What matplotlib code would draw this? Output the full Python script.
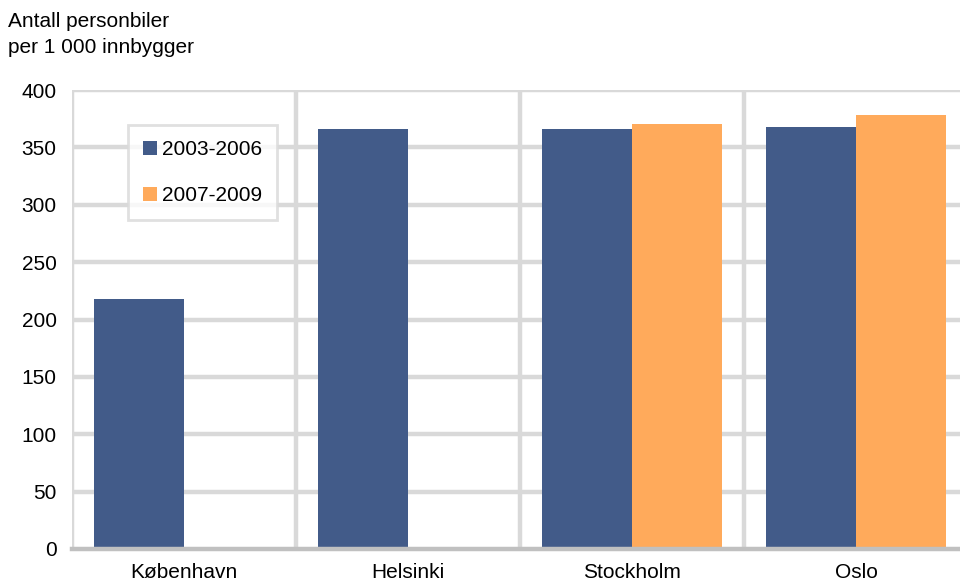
import numpy as np
import matplotlib.pyplot as plt

plt.rcParams['font.family'] = ['Liberation Sans', 'DejaVu Sans']

# Data
cities = ['København', 'Helsinki', 'Stockholm', 'Oslo']
cars_2003_2006 = [218, 366, 366, 368]
cars_2007_2009 = [np.nan, np.nan, 370, 378]
series_labels = ['2003-2006', '2007-2009']
yticks = [0, 50, 100, 150, 200, 250, 300, 350, 400]

dark_blue = '#425b89'
orange = '#ffaa5b'
grid_grey = '#d9d9d9'
fs = 15

fig = plt.figure(figsize=(9.6, 5.81), dpi=100)
ax = fig.add_axes([72 / 960, 32 / 581, 896 / 960, 459 / 581])

x = np.arange(len(cities))
w = 0.4
ax.bar(x - w / 2, cars_2003_2006, width=w, color=dark_blue, label=series_labels[0], zorder=3)
ax.bar(x + w / 2, cars_2007_2009, width=w, color=orange, label=series_labels[1], zorder=3)

ax.set_xlim(-0.5, len(cities) - 0.5)
ax.set_ylim(0, 400)
ax.set_yticks(yticks)
ax.set_yticklabels([str(t) for t in yticks], fontsize=fs)
ax.set_xticks(x)
ax.set_xticklabels(cities, fontsize=fs)
ax.tick_params(axis='both', length=0)
ax.tick_params(axis='y', pad=11)
ax.tick_params(axis='x', pad=10)

# horizontal grid and vertical group separators
for t in yticks[1:]:
    ax.axhline(t, color=grid_grey, lw=3.2, zorder=1)
for s in np.arange(-0.5, len(cities), 1.0):
    ax.axvline(s, color=grid_grey, lw=3.2, zorder=1)

for side in ['top', 'right', 'left']:
    ax.spines[side].set_visible(False)
ax.spines['bottom'].set_color('#c0c0c0')
ax.spines['bottom'].set_linewidth(3.2)
ax.spines['bottom'].set_zorder(4)

leg = ax.legend(loc='upper left', bbox_to_anchor=(56 / 896, 1 - 35 / 459),
                fontsize=fs, frameon=True, fancybox=False, handlelength=0.67,
                handleheight=0.67, handletextpad=0.25, labelspacing=1.3,
                borderpad=0.72, borderaxespad=0)
leg.get_frame().set_edgecolor(grid_grey)
leg.get_frame().set_linewidth(2)

fig.text(8 / 960, 1 - 12 / 581, 'Antall personbiler\nper 1 000 innbygger',
         fontsize=fs, va='top', ha='left', linespacing=1.46)

fig.savefig('out.png', dpi=100)
